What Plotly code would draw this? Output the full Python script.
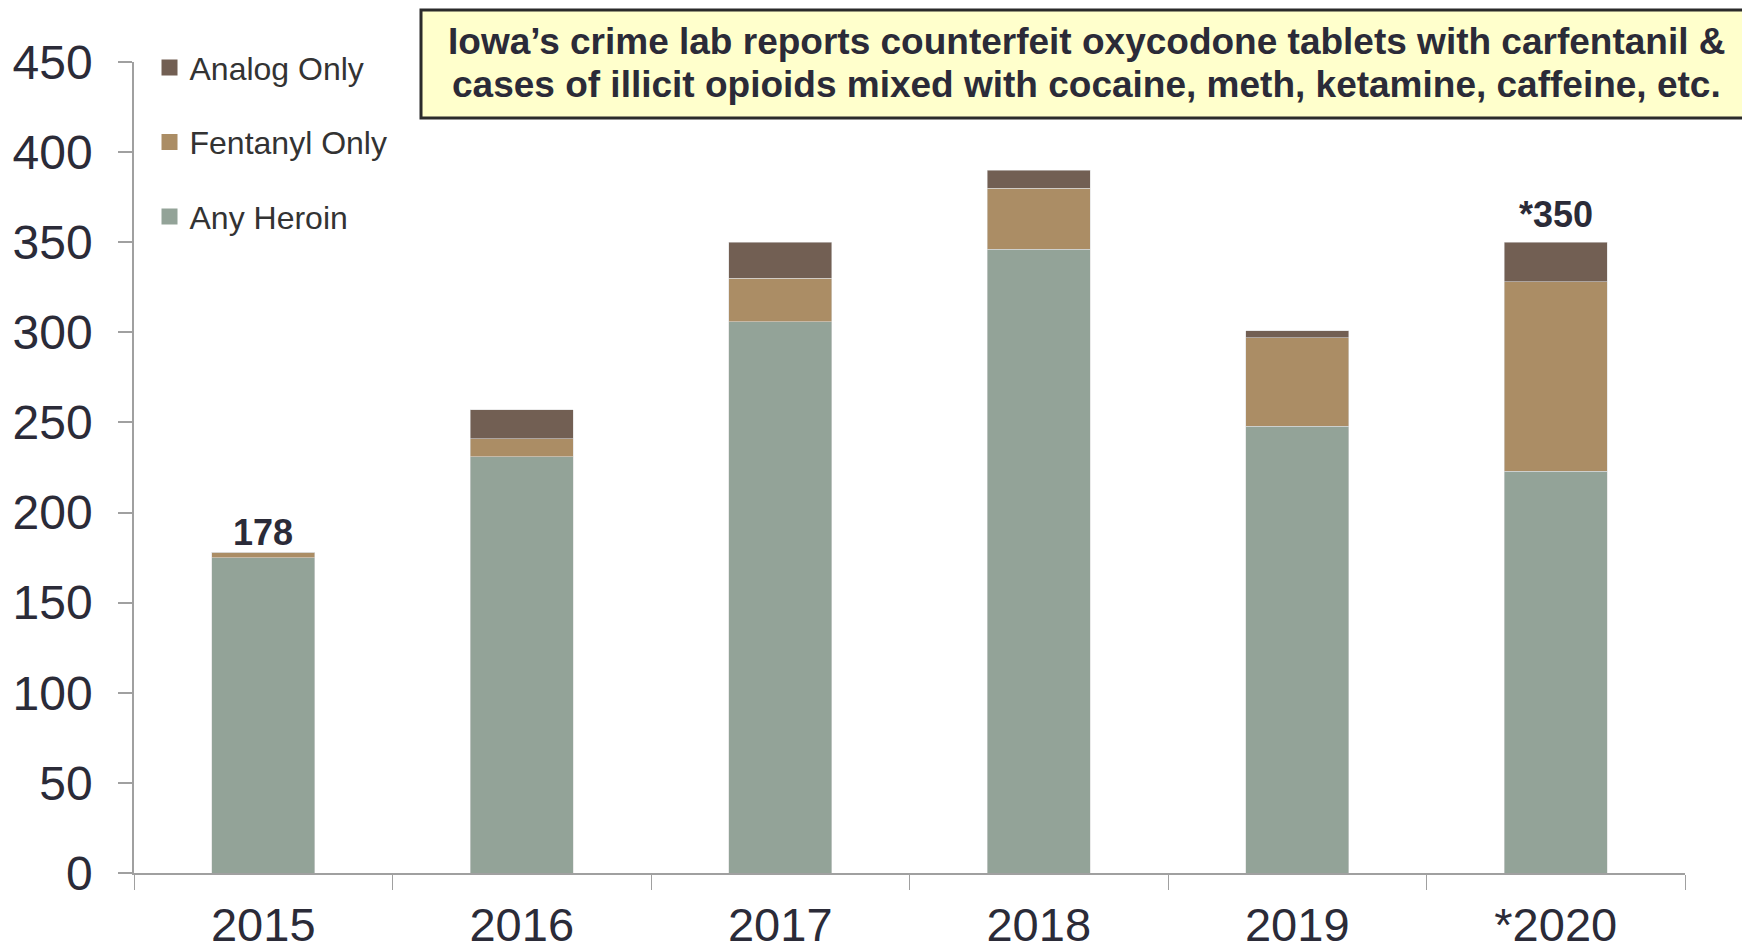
import plotly.graph_objects as go

years = ["2015", "2016", "2017", "2018", "2019", "*2020"]
any_heroin = [175, 231, 306, 346, 248, 223]
fentanyl_only = [3, 10, 24, 34, 49, 105]
analog_only = [0, 16, 20, 10, 4, 22]
total_labels = {"2015": "178", "*2020": "*350"}
y_ticks = [0, 50, 100, 150, 200, 250, 300, 350, 400, 450]
title_lines = [
    "Iowa’s crime lab reports counterfeit oxycodone tablets with carfentanil &",
    "cases of illicit opioids mixed with cocaine, meth, ketamine, caffeine, etc.",
]

# styling (pixel offsets of the total labels above their bars)
label_shift = {"2015": 20, "*2020": 28}

FONT = "Liberation Sans, Arial, sans-serif"
TXT = "#2B2B38"

fig = go.Figure()
series = [
    ("Any Heroin", any_heroin, "#93A398", 3),
    ("Fentanyl Only", fentanyl_only, "#AB8D65", 2),
    ("Analog Only", analog_only, "#725F53", 1),
]
for name, vals, col, rank in series:
    fig.add_trace(go.Bar(
        x=years, y=vals, name=name, showlegend=False,
        marker=dict(color=col, line=dict(color="rgba(220,220,220,0.7)", width=0.8)),
    ))
for name, vals, col, rank in series:
    fig.add_trace(go.Scatter(
        x=[None], y=[None], mode="markers", name=name, legendgroup=name, legendrank=rank,
        marker=dict(symbol="square", size=16, color=col),
    ))

totals = [a + b + c for a, b, c in zip(any_heroin, fentanyl_only, analog_only)]
for idx, (yr, tot) in enumerate(zip(years, totals)):
    if yr in total_labels:
        fig.add_annotation(
            x=idx, y=tot, text=f"<b>{total_labels[yr]}</b>", showarrow=False,
            yanchor="middle", yshift=label_shift[yr], font=dict(family=FONT, size=36, color=TXT),
        )

# Title box (paper coords; plot area spans screen y 62..873, x 134..1685)
fig.add_shape(type="rect", xref="paper", yref="paper",
              x0=(421 - 134) / 1551, x1=(1746 - 134) / 1551,
              y0=(873 - 118) / 811, y1=(873 - 10) / 811,
              fillcolor="#FFFFCC", line=dict(color="#2B2B2B", width=3), layer="above")
for i, line in enumerate(title_lines):
    fig.add_annotation(
        xref="paper", yref="paper", x=(1086 - 134) / 1551, y=(873 - (42 + 42 * i)) / 811,
        text=f"<b>{line}</b>", showarrow=False, xanchor="center", yanchor="middle",
        font=dict(family=FONT, size=37, color=TXT),
    )

# page body adds an 8px offset, so the figure is 8px smaller than the window
fig.update_layout(
    width=1742, height=942,
    margin=dict(l=126, r=65, t=54, b=77),
    paper_bgcolor="white", plot_bgcolor="white",
    barmode="stack", bargap=0.6,
    font=dict(family=FONT, color=TXT),
    showlegend=True,
    legend=dict(
        x=0.01, y=1.027, xanchor="left", yanchor="top",
        traceorder="grouped", tracegroupgap=30,
        font=dict(family=FONT, size=32, color="#333333"),
        bgcolor="rgba(0,0,0,0)",
    ),
    xaxis=dict(
        type="category", range=[-0.5, len(years) - 0.5], automargin=False,
        showline=True, linecolor="#A0A0A0", linewidth=2,
        ticks="outside", tickson="boundaries", ticklen=15, tickcolor="#A0A0A0", tickwidth=1,
        tickfont=dict(family=FONT, size=47, color=TXT),
        ticklabelstandoff=10,
        showgrid=False, zeroline=False,
    ),
    yaxis=dict(
        range=[0, 450], tickvals=y_ticks, automargin=False,
        showline=True, linecolor="#A0A0A0", linewidth=1.5,
        ticks="outside", ticklen=14, tickcolor="#A0A0A0", tickwidth=1.5,
        tickfont=dict(family=FONT, size=48, color=TXT),
        ticklabelstandoff=16,
        showgrid=False, zeroline=False,
    ),
)

fig.write_html("out.html")
